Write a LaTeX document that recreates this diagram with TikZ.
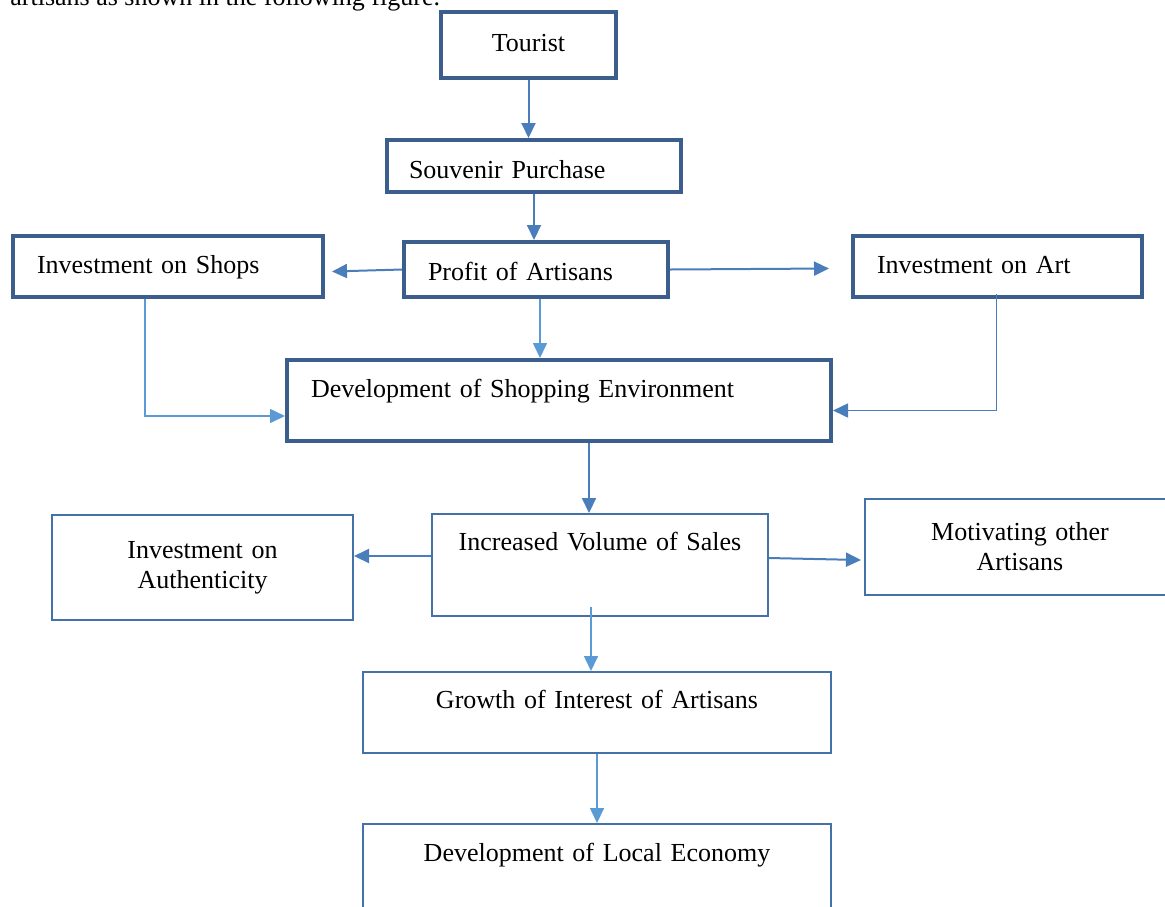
\documentclass[tikz,border=0pt]{standalone}
\usepackage{fontspec}
\setmainfont{Liberation Serif}
\usetikzlibrary{calc,arrows.meta}
\definecolor{boxblue}{RGB}{59,94,140}
\definecolor{thinblue}{RGB}{68,114,168}
\definecolor{arrowblue}{RGB}{74,126,187}
\definecolor{lightblue}{RGB}{91,155,213}

\begin{document}
\begin{tikzpicture}[x=0.5pt,y=-0.5pt,font=\fontsize{13}{15}\selectfont]
       \tikzstyle{thickframe} = [rectangle, draw=boxblue, line width=2pt, fill=white, anchor=north west, inner ysep=0pt];
       \tikzstyle{thinframe} = [rectangle, draw=thinblue, line width=1pt, fill=white, anchor=north west, inner ysep=0pt, inner xsep=0pt, align=center];
       \tikzstyle{arr} = [draw=arrowblue, line width=1pt, -{Triangle[length=7.5pt,width=7pt]}];
       \tikzstyle{thinarr} = [draw=lightblue, line width=0.8pt, -{Triangle[length=7.5pt,width=7pt]}];
       \useasboundingbox (0,0) rectangle (1165,906);

       % text above the figure, cut by the page edge
       \node[anchor=base west, inner sep=0pt] (caption) at (10,5) {artisans as shown in the following figure.};

       \node[thickframe, inner xsep=0pt, text width=87.5pt, align=center, text height=19.5pt, text depth=13.5pt] (tourist) at (439,10) {Tourist};
       \node[thickframe, inner xsep=11pt, text width=125pt, align=left, text height=19pt, text depth=7pt] (souvenir) at (385,138) {Souvenir Purchase};
       \node[thickframe, inner xsep=12pt, text width=108pt, align=left, text height=19pt, text depth=8.5pt] (profit) at (402,240) {Profit of Artisans};
       \node[thickframe, inner xsep=12pt, text width=131pt, align=left, text height=18.5pt, text depth=12pt] (shops) at (11,234) {Investment on Shops};
       \node[thickframe, inner xsep=12pt, text width=120.5pt, align=left, text height=18.5pt, text depth=12pt] (art) at (851,234) {Investment on Art};
       \node[thickframe, inner xsep=12pt, text width=248pt, align=left, text height=18.5pt, text depth=22pt] (devshop) at (285,358) {Development of Shopping Environment};

       \node[thinframe, text width=168pt, text height=18pt, text depth=33pt] (sales) at (431,513) {Increased Volume of Sales};
       \node[thinframe, text width=150.5pt, minimum height=52.5pt] (authen) at (51,514) {Investment on\\Authenticity};
       \node[thinframe, text width=155pt, minimum height=48pt] (motiv) at (864,498) {Motivating other\\Artisans};
       \node[thinframe, text width=234pt, text height=18pt, text depth=22.5pt] (growth) at (362,671) {Growth of Interest of Artisans};
       \node[thinframe, text width=234pt, text height=18.5pt, text depth=36.5pt] (local) at (362,823) {Development of Local Economy};

       \draw[arr] (tourist.south) -- (tourist.south |- souvenir.north);
       \draw[arr] (souvenir.south) -- (souvenir.south |- profit.north);

       \draw[arr] (profit.west) -- ($(shops.east)+(7,5)$);
       \draw[arr] (profit.east) -- ($(art.west)+(-22,2)$);
       \draw[thinarr] ($(profit.south)+(4,0)$) -- ($(devshop.north)+(-19,0)$);

       \draw[thinarr] ($(shops.south)+(-23,0)$) |- ($(devshop.west)+(0,15.5)$);
       \draw[thinarr, draw=arrowblue] ($(art.south)+(-1,-5)$) |- ($(devshop.east)+(0,10)$);

       \draw[arr] ($(devshop.south)+(30,0)$) -- ($(sales.north)+(-11,0)$);
       \draw[arr] ($(sales.west)+(0,-9)$) -- ($(authen.east)+(0,-11.5)$);
       \draw[arr] ($(sales.east)+(0,-7)$) -- ($(motiv.west)+(-3,13)$);
       \draw[thinarr] ($(sales.south)+(-9,-10)$) -- ($(growth.north)+(-6,0)$);
       \draw[thinarr] (growth.south) -- (local.north);
     \end{tikzpicture}
\end{document}
